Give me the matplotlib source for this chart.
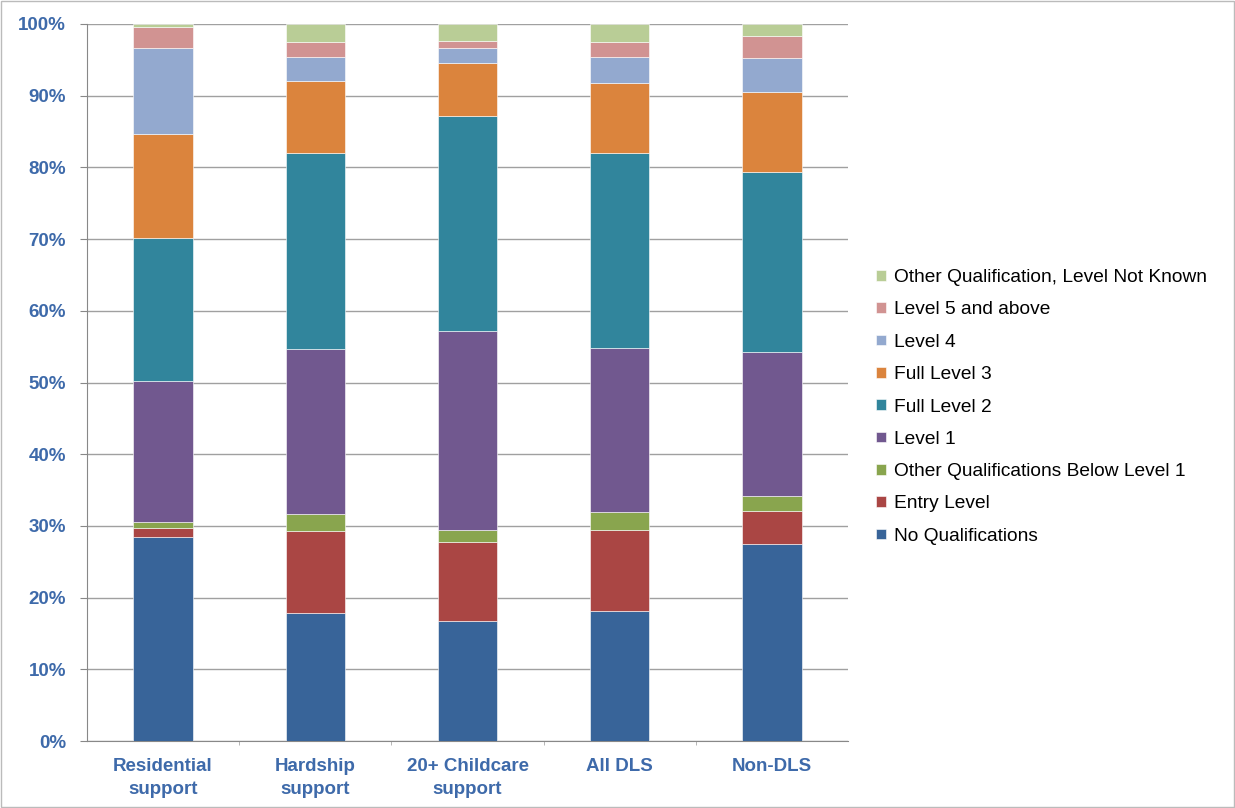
import numpy as np
import matplotlib.pyplot as plt
from matplotlib.ticker import PercentFormatter

plt.rcParams['font.family'] = ['Liberation Sans', 'DejaVu Sans']

categories = ['Residential\nsupport', 'Hardship\nsupport', '20+ Childcare\nsupport', 'All DLS', 'Non-DLS']

# shares in % per qualification level, bottom to top
no_qual = [28.4, 17.9, 16.7, 18.1, 27.5]
entry_level = [1.3, 11.4, 11.1, 11.3, 4.6]
other_below_l1 = [0.8, 2.3, 1.6, 2.5, 2.1]
level_1 = [19.7, 23.1, 27.8, 22.9, 20.1]
full_level_2 = [19.9, 27.3, 30.0, 27.2, 25.0]
full_level_3 = [14.5, 10.0, 7.4, 9.8, 11.2]
level_4 = [12.1, 3.4, 2.0, 3.6, 4.8]
level_5_above = [2.9, 2.1, 1.0, 2.1, 3.0]
other_not_known = [0.4, 2.5, 2.4, 2.5, 1.7]

series = [
    ('No Qualifications', no_qual, '#386499'),
    ('Entry Level', entry_level, '#AA4644'),
    ('Other Qualifications Below Level 1', other_below_l1, '#89A54E'),
    ('Level 1', level_1, '#71588F'),
    ('Full Level 2', full_level_2, '#31859C'),
    ('Full Level 3', full_level_3, '#DB843D'),
    ('Level 4', level_4, '#93A9CF'),
    ('Level 5 and above', level_5_above, '#D19392'),
    ('Other Qualification, Level Not Known', other_not_known, '#B9CD96'),
]

fig = plt.figure(figsize=(12.35, 8.08), dpi=100)
ax = fig.add_axes([87 / 1235, 1 - 741 / 808, (848 - 87) / 1235, (741 - 24) / 808])

x = np.arange(len(categories))
bottom = np.zeros(len(categories))
for name, vals, color in series:
    ax.bar(x, vals, width=0.39, bottom=bottom, color=color, label=name,
           edgecolor='white', linewidth=0.4, zorder=3)
    bottom += np.array(vals)

ax.set_xlim(-0.5, len(categories) - 0.5)
ax.set_ylim(0, 100)
ax.set_yticks(np.arange(0, 101, 10))
ax.yaxis.set_major_formatter(PercentFormatter(decimals=0))
ax.set_xticks(x)
ax.set_xticklabels(categories)
ax.set_xticks(np.arange(0.5, len(categories) - 0.5, 1), minor=True)

tick_color = '#3E6AAA'
for lbl in ax.get_xticklabels() + ax.get_yticklabels():
    lbl.set_color(tick_color)
    lbl.set_fontweight('bold')
    lbl.set_fontsize(13.5)
for lbl in ax.get_xticklabels():
    lbl.set_linespacing(1.45)

ax.grid(axis='y', color='#A0A0A0', linewidth=1, zorder=0)
for side in ['top', 'right']:
    ax.spines[side].set_visible(False)
ax.spines['left'].set_color('#888888')
ax.spines['bottom'].set_color('#888888')
ax.tick_params(axis='y', length=5, color='#888888', pad=10)
ax.tick_params(axis='x', which='major', length=0, pad=12)
ax.tick_params(axis='x', which='minor', length=3, color='#AAAAAA')

handles, labels = ax.get_legend_handles_labels()
leg = fig.legend(handles[::-1], labels[::-1], loc='center left',
                 bbox_to_anchor=(859 / 1235, 1 - 407 / 808), frameon=False,
                 fontsize=13.8, handlelength=0.5, handleheight=0.5,
                 handletextpad=0.45, labelspacing=0.8)

# thin border around the figure
fig.patches.append(plt.Rectangle((0.001, 0.001), 0.998, 0.998, transform=fig.transFigure,
                                 fill=False, edgecolor='#BBBBBB', linewidth=1))

plt.savefig('out.png', dpi=100)
